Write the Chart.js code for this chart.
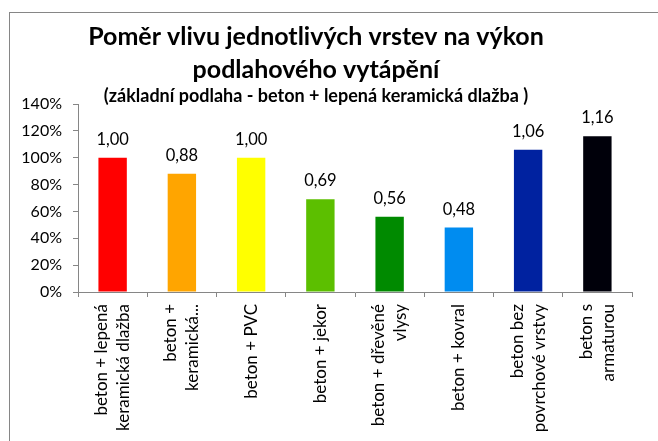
<!DOCTYPE html>
<html lang="cs">
<head>
    <meta charset="UTF-8">
    <title>Poměr vlivu jednotlivých vrstev</title>
    <style>
        body {
            margin: 0;
            padding: 0;
            background-color: white;
            overflow: hidden;
        }
        #wrap {
            position: relative;
            width: 658px;
            height: 441px;
        }
        #frame {
            position: absolute;
            left: 9px;
            top: 12px;
            width: 700px;
            height: 500px;
            border: 1px solid #868686;
        }
        #vykonChart {
            position: absolute;
            left: 0;
            top: 0;
        }
    </style>
</head>
<body>
    <div id="wrap">
        <div id="frame"></div>
        <canvas id="vykonChart" width="658" height="441"></canvas>
    </div>
    <script src="https://cdn.jsdelivr.net/npm/chart.js"></script>
    <script>
        const categories = [
            ["beton + lepená", "keramická dlažba"],
            ["beton +", "keramická..."],
            "beton + PVC",
            "beton + jekor",
            ["beton + dřevěné", "vlysy"],
            "beton + kovral",
            ["beton bez", "povrchové vrstvy"],
            ["beton s", "armaturou"]
        ];
        const ratios = [1.00, 0.88, 1.00, 0.69, 0.56, 0.48, 1.06, 1.16];
        const barColors = ["#ff0000", "#ffa500", "#ffff00", "#5cbf00", "#008a00", "#008cf0", "#0022a0", "#00000a"];
        const yTicks = [0, 0.2, 0.4, 0.6, 0.8, 1.0, 1.2, 1.4];

        const fontName = "Lato, 'Noto Sans', sans-serif";
        const axisGray = "#868686";

        // values written above each bar, czech decimal comma
        const valueLabels = {
            id: "valueLabels",
            afterDatasetsDraw(chart) {
                const ctx = chart.ctx;
                const meta = chart.getDatasetMeta(0);
                ctx.save();
                ctx.font = "16.5px " + fontName;
                ctx.fillStyle = "#000";
                ctx.textAlign = "center";
                ctx.textBaseline = "bottom";
                meta.data.forEach((bar, i) => {
                    ctx.fillText(ratios[i].toFixed(2).replace(".", ","), bar.x, bar.y - 10);
                });
                ctx.restore();
            }
        };

        // rotated category names, lines centred on the tick (chart.js pushes
        // rotated multi-line labels off to one side)
        const categoryLabels = {
            id: "categoryLabels",
            afterDraw(chart) {
                const ctx = chart.ctx;
                const xs = chart.scales.x;
                const gap = 22;
                ctx.save();
                ctx.font = "17px " + fontName;
                ctx.fillStyle = "#000";
                ctx.textAlign = "right";
                ctx.textBaseline = "middle";
                categories.forEach((lab, i) => {
                    const lines = [].concat(lab);
                    const cx = xs.getPixelForTick(i);
                    lines.forEach((line, k) => {
                        ctx.save();
                        ctx.translate(cx + (k - (lines.length - 1) / 2) * gap, xs.top + 12);
                        ctx.rotate(-Math.PI / 2);
                        ctx.fillText(line, 0, 0);
                        ctx.restore();
                    });
                });
                ctx.restore();
            }
        };

        new Chart(document.getElementById("vykonChart"), {
            type: "bar",
            data: {
                labels: categories,
                datasets: [{
                    data: ratios,
                    backgroundColor: barColors,
                    borderWidth: 0,
                    categoryPercentage: 1,
                    barPercentage: 0.41
                }]
            },
            options: {
                responsive: false,
                animation: false,
                layout: {
                    padding: { left: 0, right: 26, top: 20, bottom: 0 }
                },
                plugins: {
                    legend: { display: false },
                    tooltip: { enabled: false },
                    title: {
                        display: true,
                        text: ["Poměr vlivu jednotlivých vrstev na výkon", "podlahového vytápění"],
                        color: "#000",
                        font: { family: fontName, size: 25, weight: "bold", lineHeight: 1.32 },
                        padding: { top: 0, bottom: 1 }
                    },
                    subtitle: {
                        display: true,
                        text: "(základní podlaha - beton + lepená keramická dlažba )",
                        color: "#000",
                        font: { family: fontName, size: 18, weight: "bold", lineHeight: 1.0 },
                        padding: { top: 0, bottom: -1 }
                    }
                },
                scales: {
                    x: {
                        offset: true,
                        border: { color: axisGray, width: 1 },
                        grid: {
                            offset: true,
                            drawOnChartArea: false,
                            drawTicks: true,
                            tickLength: 5,
                            color: axisGray
                        },
                        ticks: {
                            display: false,
                            autoSkip: false
                        },
                        afterFit(scale) { scale.height = 149; }
                    },
                    y: {
                        min: 0,
                        max: 1.4,
                        border: { color: axisGray, width: 1 },
                        grid: {
                            drawOnChartArea: false,
                            drawTicks: true,
                            tickLength: 5,
                            color: axisGray
                        },
                        afterBuildTicks(scale) {
                            scale.ticks = yTicks.map(v => ({ value: v }));
                        },
                        ticks: {
                            color: "#000",
                            font: { family: fontName, size: 16 },
                            padding: 11,
                            callback: v => Math.round(v * 100) + "%"
                        },
                        afterFit(scale) { scale.width = 78; }
                    }
                }
            },
            plugins: [valueLabels, categoryLabels]
        });
    </script>
</body>
</html>
